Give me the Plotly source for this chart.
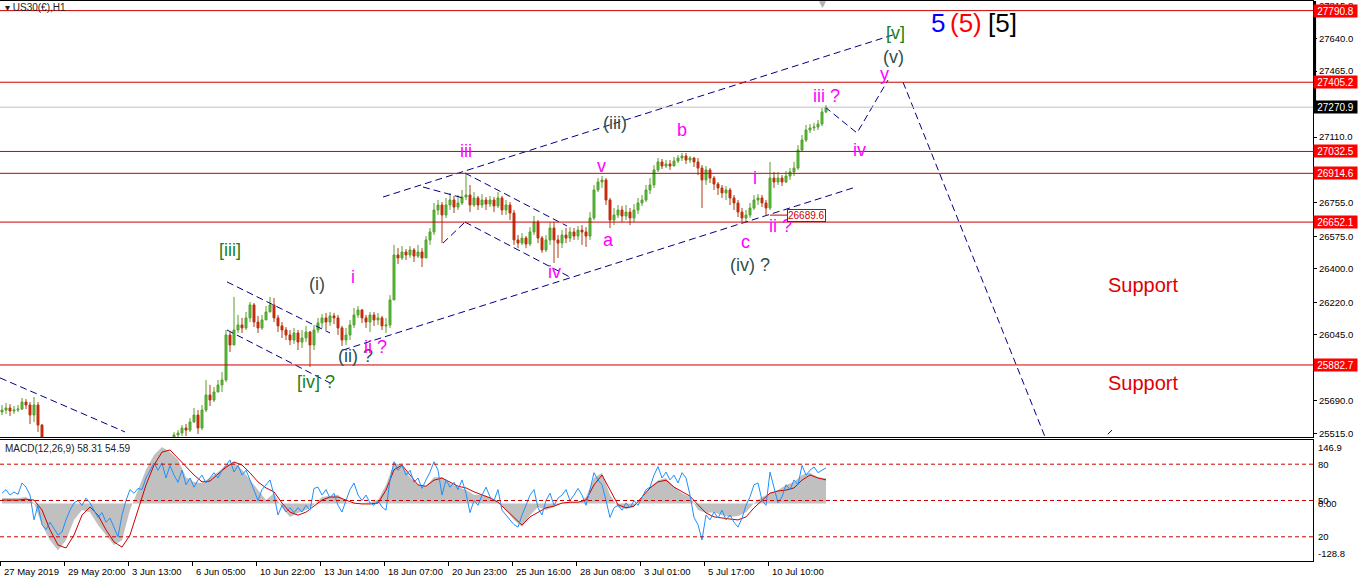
import plotly.graph_objects as go

# ---------------- data ----------------
# hourly-ish bars, 4 px per bar; index 0 = 27 May 2019
bar_close = [
 25640, 25651, 25635, 25640, 25645, 25683, 25667, 25613, 25667, 25559,
 25452, 25380, 25330, 25290, 25250, 25200, 25180, 25210, 25230, 25250,
 25240, 25260, 25230, 25180, 25120, 25060, 25000, 24950, 24900, 24880,
 24860, 24900, 24950, 25000, 25060, 25120, 25180, 25230, 25280, 25320,
 25360, 25400, 25440, 25506, 25516, 25543, 25532, 25576, 25613, 25543,
 25640, 25721, 25694, 25737, 25775, 25802, 26044, 25990, 26071, 26098,
 26082, 26136, 26206, 26114, 26082, 26125, 26168, 26206, 26136, 26093,
 26071, 26044, 26017, 26055, 26006, 26028, 26060, 25990, 26071, 26109,
 26136, 26114, 26147, 26136, 26082, 26017, 26044, 26098, 26152, 26179,
 26136, 26114, 26152, 26125, 26136, 26093, 26098, 26233, 26475, 26459,
 26491, 26475, 26502, 26469, 26491, 26459, 26556, 26599, 26717, 26744,
 26690, 26744, 26771, 26733, 26755, 26787, 26798, 26744, 26782, 26744,
 26771, 26749, 26771, 26739, 26782, 26717, 26744, 26701, 26556, 26539,
 26566, 26534, 26599, 26652, 26566, 26502, 26556, 26620, 26556, 26539,
 26582, 26566, 26599, 26577, 26609, 26599, 26577, 26674, 26825, 26868,
 26879, 26771, 26663, 26690, 26717, 26685, 26706, 26674, 26717, 26755,
 26771, 26825, 26852, 26933, 26976, 26954, 26965, 26954, 26981, 26997,
 27008, 26986, 26997, 26976, 26943, 26879, 26933, 26889, 26857, 26836,
 26809, 26825, 26782, 26755, 26706, 26674, 26690, 26728, 26771, 26782,
 26755, 26728, 26889, 26868, 26889, 26868, 26900, 26922, 26943, 27040,
 27094, 27148, 27159, 27164, 27180, 27245, 27271]
bar_high = [
 25667, 25678, 25672, 25662, 25667, 25705, 25699, 25683, 25710, 25683,
 25565, 25460, 25390, 25350, 25310, 25270, 25230, 25250, 25270, 25290,
 25280, 25300, 25280, 25240, 25190, 25130, 25070, 25010, 24960, 24930,
 24910, 24940, 24990, 25040, 25100, 25160, 25220, 25270, 25320, 25360,
 25400, 25440, 25475, 25521, 25532, 25559, 25565, 25597, 25651, 25640,
 25667, 25802, 25775, 25764, 25802, 25845, 26071, 26060, 26249, 26152,
 26136, 26168, 26222, 26216, 26147, 26152, 26200, 26249, 26243, 26152,
 26114, 26087, 26071, 26082, 26071, 26071, 26093, 26066, 26098, 26136,
 26157, 26163, 26168, 26163, 26152, 26093, 26082, 26125, 26190, 26200,
 26184, 26152, 26168, 26168, 26163, 26147, 26136, 26259, 26529, 26512,
 26523, 26507, 26523, 26512, 26529, 26512, 26577, 26620, 26755, 26771,
 26760, 26782, 26809, 26793, 26798, 26825, 26916, 26852, 26814, 26793,
 26803, 26787, 26793, 26787, 26814, 26793, 26771, 26760, 26717, 26582,
 26593, 26577, 26625, 26685, 26663, 26577, 26582, 26652, 26652, 26582,
 26609, 26620, 26625, 26620, 26631, 26636, 26625, 26706, 26852, 26889,
 26900, 26889, 26782, 26728, 26744, 26739, 26744, 26728, 26749, 26782,
 26798, 26852, 26889, 26959, 26997, 26992, 26986, 26986, 27003, 27013,
 27024, 27024, 27008, 27003, 26997, 26959, 26954, 26943, 26900, 26868,
 26852, 26846, 26836, 26798, 26771, 26728, 26717, 26755, 26798, 26803,
 26798, 26771, 26976, 26922, 26922, 26905, 26927, 26943, 26976, 27067,
 27121, 27175, 27180, 27186, 27202, 27266, 27282]
bar_low = [
 25613, 25619, 25608, 25619, 25629, 25640, 25645, 25565, 25575, 25522,
 25425, 25360, 25300, 25260, 25220, 25170, 25150, 25160, 25190, 25210,
 25200, 25220, 25200, 25150, 25090, 25030, 24970, 24910, 24860, 24840,
 24820, 24850, 24900, 24940, 24990, 25050, 25110, 25170, 25220, 25270,
 25310, 25350, 25390, 25430, 25479, 25500, 25500, 25522, 25570, 25511,
 25532, 25629, 25662, 25683, 25737, 25737, 25791, 25952, 25990, 26055,
 26055, 26071, 26114, 26087, 26055, 26071, 26125, 26168, 26114, 26060,
 26028, 26017, 25990, 25996, 25963, 25974, 26006, 25872, 25963, 26055,
 26082, 26071, 26093, 26103, 26044, 25985, 25990, 26017, 26082, 26136,
 26109, 26082, 26060, 26093, 26098, 26071, 26055, 26082, 26233, 26426,
 26448, 26448, 26459, 26437, 26459, 26410, 26459, 26529, 26583, 26690,
 26539, 26674, 26717, 26701, 26717, 26744, 26771, 26706, 26733, 26717,
 26728, 26717, 26733, 26706, 26728, 26690, 26690, 26663, 26529, 26512,
 26529, 26512, 26523, 26582, 26539, 26486, 26491, 26529, 26432, 26459,
 26512, 26539, 26545, 26556, 26556, 26529, 26518, 26556, 26663, 26814,
 26836, 26744, 26620, 26636, 26674, 26652, 26663, 26636, 26652, 26696,
 26739, 26760, 26803, 26836, 26922, 26938, 26943, 26933, 26954, 26970,
 26981, 26965, 26970, 26949, 26905, 26728, 26852, 26862, 26825, 26798,
 26782, 26771, 26744, 26717, 26679, 26652, 26652, 26674, 26717, 26744,
 26733, 26690, 26717, 26836, 26852, 26846, 26862, 26879, 26900, 26933,
 27030, 27083, 27132, 27143, 27148, 27169, 27239]
first_open = 25629
bar_open = [first_open] + bar_close[:-1]
bar_index = list(range(len(bar_close)))

# MACD(12,26,9) main (grey) and signal (red), one value every 2 bars
macd_main = [
 13, 13, 13, 15, 1, -50, -85, -108, -85, -38,
 -15, -20, -50, -73, -96, -85, -15, 31, 78, 112,
 131, 119, 101, 61, 50, 47, 59, 73, 89, 96,
 78, 54, 31, 8, 24, -10, -31, -22, -15, -3,
 15, 17, 20, 3, 1, 1, 3, 8, 43, 94,
 89, 61, 43, 40, 61, 61, 47, 38, 31, 20,
 20, 13, 6, -15, -38, -54, -27, -8, -15, -8,
 1, 3, 1, 15, 59, 71, 20, -8, -13, -8,
 15, 38, 54, 59, 38, 24, 15, -15, -22, -20,
 -27, -31, -29, -20, 1, 15, 24, 31, 43, 50,
 66, 71, 61, 58.31]
macd_signal = [
 8, 8, 8, 10, 8, -15, -61, -96, -103, -73,
 -27, -8, -27, -61, -89, -101, -73, -15, 43, 89,
 119, 124, 105, 84, 66, 50, 52, 68, 84, 96,
 89, 71, 50, 36, 27, 1, -20, -27, -20, -6,
 8, 15, 15, 8, 1, -1, -1, 1, 31, 78,
 89, 66, 43, 40, 54, 59, 50, 40, 36, 27,
 20, 13, 3, -15, -31, -50, -31, -20, -10, -6,
 1, 3, 3, 8, 43, 66, 31, -3, -10, -6,
 15, 36, 50, 54, 38, 27, 17, -3, -22, -31,
 -34, -36, -38, -31, -10, 8, 24, 29, 31, 36,
 54, 66, 59, 54.59]
macd_index = [2 * i for i in range(len(macd_main))]

# blue oscillator (0..100 scale, levels 80/50/20), one value per bar
osc_line = [
 56, 59, 54.5, 57, 55, 64.5, 61, 54.5, 34, 46,
 30, 26, 32, 27, 21.5, 24, 34, 42, 48, 50,
 46, 52, 48, 42, 36, 40, 32, 35.5, 27, 20,
 38, 50, 59, 56, 60, 59, 68.6, 75, 81, 75,
 81, 68.6, 79, 71, 65, 75, 63, 68.6, 61, 67,
 71, 64.5, 69, 73, 68.6, 75, 79, 83.5, 73.5, 79,
 71, 75, 67, 59, 50, 59, 63, 67, 54.5, 38,
 46, 40.5, 44, 40, 44, 40.5, 46, 42, 60, 61,
 54.5, 59, 52, 56, 46, 40.5, 50, 59, 64.5, 54.5,
 50, 54.5, 48, 46, 50, 44.6, 42, 67, 82, 75,
 79, 71, 75, 65, 68.6, 60, 67, 73.5, 82, 75,
 54.5, 67, 61, 65, 59, 67, 56, 40, 50, 46,
 54.5, 61, 53, 50, 59, 42, 38, 34, 30, 28,
 38, 46, 54.5, 59, 44, 38, 50, 56, 46, 52,
 54.5, 59, 50, 54.5, 60, 54.5, 46, 59, 73, 67,
 63, 50, 36, 44, 46, 42, 48, 44, 50, 46,
 53, 59, 61, 71, 78, 68.6, 73.5, 67, 71, 64.5,
 73, 68.6, 54.5, 36, 30, 17.4, 38, 34, 40.5, 35.5,
 42, 34, 38, 32, 28, 35.5, 46, 53, 63, 64.5,
 50, 46, 73.5, 60, 48, 53, 63, 59, 67, 63,
 79, 71, 75, 77.7, 73, 75, 77]
osc_index = list(range(len(osc_line)))
osc_levels = [80, 50, 20]

date_labels = ["27 May 2019", "29 May 20:00", "3 Jun 13:00", "6 Jun 05:00",
               "10 Jun 22:00", "13 Jun 14:00", "18 Jun 07:00", "20 Jun 23:00",
               "25 Jun 16:00", "28 Jun 08:00", "3 Jul 01:00", "5 Jul 17:00",
               "10 Jul 10:00"]
date_label_bars = [16 * k - 0.5 for k in range(len(date_labels))]

level_prices = [27790.8, 27405.2, 27032.5, 26914.6, 26652.1, 25882.7]
current_price = 27270.9
marked_low = 26689.6
price_ticks = [27815.8, 27640.0, 27465.0, 27290.0, 27110.0, 26935.0, 26755.0,
               26575.0, 26400.0, 26220.0, 26045.0, 25870.0, 25690.0, 25515.0]

# analyst trend lines (bar index, price)
upper_channel_x, upper_channel_p = [95.25, 222.75], [26787, 27660]
lower_channel_x, lower_channel_p = [85.25, 212.75], [25963, 26836]
early_down_x, early_down_p = [-0.5, 30.75], [25813, 25522]
flag_top_x, flag_top_p = [56.25, 82.0], [26330, 26055]
flag_bot_x, flag_bot_p = [56.25, 82.0], [26071, 25786]
iv_top_x, iv_top_p = [115.75, 141.25], [26916, 26631]
iv_bot_x, iv_bot_p = [115.75, 142.0], [26652, 26356]
small_a_x, small_a_p = [105.25, 115.25], [26841, 26782]
small_b_x, small_b_p = [110.25, 115.75], [26539, 26652]
path_up_x, path_up_p = [205.75, 213.75, 221.5], [27272, 27132, 27417]
path_down_x, path_down_p = [225.25, 264.5], [27406, 25294]
tail_x, tail_p = [274.5, 277.5], [25468, 25532]

# wave labels
MAG, SLATE, GRN = "#ff00ff", "#2f4f4f", "#1a801a"
wave_text = ["[v]", "(v)", "y", "iii ?", "iv", "(iii)", "b", "iii", "v", "i",
             "a", "c", "ii ?", "(iv) ?", "iv", "[iii]", "(i)", "i", "(ii) ?",
             "ii ?", "[iv] ?"]
wave_x = [223.25, 222.75, 220.5, 206.0, 214.25, 153.25, 170.0, 116.0, 149.75, 188.25,
          151.5, 185.75, 194.5, 187.0, 138.0, 57.0, 78.75, 87.75, 88.25,
          93.25, 78.5]
wave_p = [27670, 27541, 27452, 27331, 27040, 27186, 27148, 27035, 26954, 26890,
          26556, 26545, 26631, 26421, 26383, 26502, 26319, 26356, 25931,
          25979, 25791]
wave_color = [GRN, SLATE, MAG, MAG, MAG, SLATE, MAG, MAG, MAG, MAG,
              MAG, MAG, MAG, SLATE, MAG, GRN, SLATE, MAG, SLATE,
              MAG, GRN]

# ---------------- figure ----------------
W, H = 1361, 584
MT, MB, MR = 1, 22, 48
PH = H - MT - MB


def py(pix):  # pixel row -> paper fraction
    return (H - MB - pix) / PH


AXF = dict(family="Liberation Sans", size=9.5, color="black")
LBLF = "Liberation Sans"
NAVY = "#000080"
RED = "#cc0000"

fig = go.Figure()

fig.add_trace(go.Candlestick(
    x=bar_index, open=bar_open, high=bar_high, low=bar_low, close=bar_close,
    xaxis="x2", yaxis="y", whiskerwidth=0,
    increasing=dict(fillcolor="#3ec83e", line=dict(color="#5a9e2a", width=1)),
    decreasing=dict(fillcolor="#f01010", line=dict(color="#b03a10", width=1)),
    hoverinfo="skip", showlegend=False))

dash_sets = [(upper_channel_x, upper_channel_p), (lower_channel_x, lower_channel_p),
             (early_down_x, early_down_p), (flag_top_x, flag_top_p),
             (flag_bot_x, flag_bot_p), (iv_top_x, iv_top_p), (iv_bot_x, iv_bot_p),
             (small_a_x, small_a_p), (small_b_x, small_b_p),
             (path_up_x, path_up_p), (path_down_x, path_down_p), (tail_x, tail_p)]
for xs, ps in dash_sets:
    fig.add_trace(go.Scatter(x=xs, y=ps, mode="lines", xaxis="x2", yaxis="y",
                             line=dict(color=NAVY, width=1, dash="7px,4px"),
                             hoverinfo="skip", showlegend=False))

fig.add_trace(go.Scatter(x=[192, 196.25], y=[marked_low, marked_low], mode="lines",
                         xaxis="x2", yaxis="y", line=dict(color=RED, width=1),
                         hoverinfo="skip", showlegend=False))

# MACD panel
fig.add_trace(go.Scatter(x=macd_index, y=macd_main, mode="lines", fill="tozeroy",
                         fillcolor="#c0c0c0", line=dict(width=0, color="#c0c0c0"),
                         xaxis="x", yaxis="y2", hoverinfo="skip", showlegend=False))
fig.add_trace(go.Scatter(x=macd_index, y=macd_signal, mode="lines",
                         line=dict(color=RED, width=1),
                         xaxis="x", yaxis="y2", hoverinfo="skip", showlegend=False))
fig.add_trace(go.Scatter(x=osc_index, y=osc_line, mode="lines",
                         line=dict(color="#1e90ff", width=1),
                         xaxis="x", yaxis="y3", hoverinfo="skip", showlegend=False))

shapes = []
for lp in level_prices:
    shapes.append(dict(type="line", xref="paper", x0=0, x1=1, yref="y", y0=lp, y1=lp,
                       line=dict(color=RED, width=1)))
shapes.append(dict(type="line", xref="paper", x0=0, x1=1, yref="y",
                   y0=current_price, y1=current_price, line=dict(color="#c0c0c0", width=1)))
shapes.append(dict(type="line", xref="paper", x0=1.0012, x1=1.0012, yref="y",
                   y0=current_price, y1=27842.6, line=dict(color="black", width=3)))
for lv in osc_levels:
    shapes.append(dict(type="line", xref="paper", x0=0, x1=1, yref="y3", y0=lv, y1=lv,
                       line=dict(color=RED, width=1, dash="4px,3px")))

ann = []
for t, x, p, c in zip(wave_text, wave_x, wave_p, wave_color):
    ann.append(dict(text=t, x=x, y=p, xref="x2", yref="y", showarrow=False,
                    xanchor="center", yanchor="middle",
                    font=dict(family=LBLF, size=18, color=c)))
for t, px, c in [("5", 938, "#0000ff"), ("(5)", 966, "#ff0000"), ("[5]", 1002, "black")]:
    ann.append(dict(text=t, x=px / 4 - 0.5, y=py(23), xref="x2", yref="paper",
                    xanchor="center", yanchor="middle",
                    showarrow=False, font=dict(family=LBLF, size=26, color=c)))
for px in (285, 383):
    ann.append(dict(text="Support", x=1143 / 4 - 0.5, y=py(px), xref="x2", yref="paper",
                    xanchor="center", yanchor="middle",
                    showarrow=False, font=dict(family=LBLF, size=20, color="#e00000")))
for lp in level_prices:
    ann.append(dict(text=f"{lp:.1f}", x=1, xref="paper", y=lp, yref="y", xanchor="left",
                    yanchor="middle", showarrow=False, bgcolor="#ff0000", borderpad=0,
                    width=43, height=12, align="center",
                    font=dict(family="Liberation Sans", size=10, color="white")))
ann.append(dict(text=f"{current_price:.1f}", x=1, xref="paper", y=current_price, yref="y",
                xanchor="left", yanchor="middle", showarrow=False, bgcolor="black",
                borderpad=0, width=43, height=12, align="center",
                font=dict(family="Liberation Sans", size=10, color="white")))
ann.append(dict(text=f"{marked_low:.1f}", x=196.25, xref="x2", y=marked_low, yref="y",
                xanchor="left", yanchor="middle", showarrow=False, bgcolor="white",
                bordercolor=RED, borderwidth=1, borderpad=0,
                font=dict(family="Liberation Sans", size=10, color=RED)))
for t, x in zip(date_labels, date_label_bars):
    ann.append(dict(text=t, x=x, xref="x", y=py(571), yref="paper", xanchor="left",
                    yanchor="middle", xshift=2, showarrow=False, font=AXF))
# MACD panel right-hand labels
ann.append(dict(text="146.9", x=1, xref="paper", y=147, yref="y2", xanchor="left",
                yanchor="top", xshift=3, showarrow=False, font=AXF))
ann.append(dict(text="-128.8", x=1, xref="paper", y=-133, yref="y2", xanchor="left",
                yanchor="bottom", xshift=3, showarrow=False, font=AXF))
ann.append(dict(text="0.00", x=1, xref="paper", y=0, yref="y2", xanchor="left",
                yanchor="middle", xshift=3, showarrow=False, font=AXF))
for lv in osc_levels:
    ann.append(dict(text=str(lv), x=1, xref="paper", y=lv, yref="y3", xanchor="left",
                    yanchor="middle", xshift=3, showarrow=False, font=AXF))
ann.append(dict(text="MACD(12,26,9) 58.31 54.59", x=0, xref="paper", y=py(448),
                yref="paper", xanchor="left", yanchor="middle", xshift=3, showarrow=False,
                font=dict(family="Liberation Sans", size=10, color="#202020")))
ann.append(dict(text="▾ US30(€),H1", x=0, xref="paper", y=py(8), yref="paper",
                xanchor="left", yanchor="middle", xshift=3, showarrow=False,
                font=dict(family="Liberation Sans", size=10, color="#202020")))
ann.append(dict(text="▼", x=822 / 4 - 0.5, xref="x2", y=py(4), yref="paper",
                xanchor="center", yanchor="middle", showarrow=False,
                font=dict(family="DejaVu Sans", size=9, color="#b0b0b0")))

main_dom = [py(437), 1]
macd_dom = [py(561), py(440)]
xr = [-0.5, (W - MR) / 4 - 0.5]

fig.update_layout(
    width=W, height=H,
    margin=dict(l=0, r=MR, t=MT, b=MB, autoexpand=False),
    paper_bgcolor="white", plot_bgcolor="white", showlegend=False, hovermode=False,
    xaxis=dict(domain=[0, 1], anchor="y2", range=xr, showgrid=False, zeroline=False,
               tickmode="array", tickvals=date_label_bars, ticks="outside", ticklen=4,
               tickcolor="black", showticklabels=False, showline=True, linecolor="black",
               linewidth=1, mirror=True, automargin=False),
    xaxis2=dict(domain=[0, 1], anchor="y", matches="x", range=xr, showgrid=False,
                zeroline=False, showticklabels=False, ticks="", showline=True,
                linecolor="black", linewidth=1, mirror=True, automargin=False,
                rangeslider=dict(visible=False)),
    yaxis=dict(domain=main_dom, anchor="x2", side="right",
               range=[27848 - 5.385 * 437, 27848 - 5.385 * MT],
               showgrid=False, zeroline=False, tickmode="array", tickvals=price_ticks,
               ticktext=[f"{v:.1f}" for v in price_ticks], ticks="outside", ticklen=3,
               tickcolor="black", tickfont=AXF, showline=True, linecolor="black",
               automargin=False),
    yaxis2=dict(domain=macd_dom, anchor="x", side="right", range=[-133.1, 147],
                showgrid=False, zeroline=False, showticklabels=False, ticks="",
                showline=True, linecolor="black", automargin=False),
    yaxis3=dict(overlaying="y2", anchor="x", side="right", range=[0, 100],
                visible=False),
    shapes=shapes, annotations=ann,
)

fig.write_html("out.html", config={"responsive": False, "displayModeBar": False},
               post_script="document.body.style.margin='0';"
                           "document.body.style.overflow='hidden';")
